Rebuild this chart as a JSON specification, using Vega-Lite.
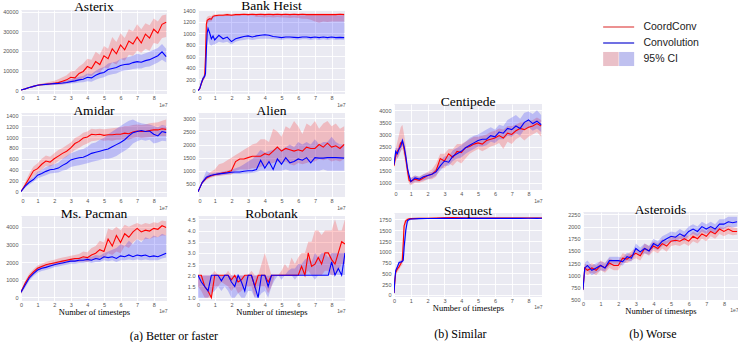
{
"$schema": "https://vega.github.io/schema/vega-lite/v6.json",
"padding": {"left": 2, "top": -2, "right": 0, "bottom": 0},
"background": "white",
"config": {
  "view": {"fill": "#EAEAF2", "stroke": null},
  "axis": {"grid": true, "gridColor": "#ffffff", "gridWidth": 0.9, "domain": false, "ticks": false, "labelOverlap": false, "labelFont": "Liberation Sans", "labelFontSize": 5.5, "labelColor": "#555555", "titleFont": "Liberation Serif, Times New Roman, serif", "titleFontSize": 8.5, "titleFontWeight": "normal", "titleColor": "#000000"},
  "axisX": {"labelPadding": 1.5, "titlePadding": 0},
  "axisY": {"labelPadding": 3},
  "title": {"font": "Liberation Serif, Times New Roman, serif", "fontSize": 13.5, "fontWeight": "normal", "color": "#000000", "offset": -4},
  "style": {
    "group-title": {"font": "Liberation Serif, Times New Roman, serif", "fontSize": 13.5, "fontWeight": "normal", "fill": "#000000"},
    "guide-title": {"font": "Liberation Serif, Times New Roman, serif", "fontSize": 8.5, "fontWeight": "normal", "fill": "#000000"},
    "guide-label": {"font": "Liberation Sans", "fontSize": 5.5, "fill": "#555555"}
  }
},
"datasets": {
"asterix": [
{"x":0,"r":0,"rl":0,"rh":0,"b":0,"bl":0,"bh":0},
{"x":0.25,"r":600,"rl":400,"rh":800,"b":600,"bl":400,"bh":800},
{"x":0.5,"r":1300,"rl":1000,"rh":1600,"b":1300,"bl":1000,"bh":1600},
{"x":0.75,"r":1900,"rl":1500,"rh":2300,"b":1900,"bl":1500,"bh":2300},
{"x":1,"r":2500,"rl":2100,"rh":2900,"b":2500,"bl":2100,"bh":2900},
{"x":1.25,"r":2800,"rl":2300,"rh":3300,"b":2700,"bl":2300,"bh":3100},
{"x":1.5,"r":3000,"rl":2400,"rh":3700,"b":2900,"bl":2400,"bh":3400},
{"x":1.75,"r":3200,"rl":2500,"rh":4200,"b":3100,"bl":2600,"bh":3600},
{"x":2,"r":3500,"rl":2600,"rh":4800,"b":3300,"bl":2700,"bh":3900},
{"x":2.25,"r":3800,"rl":2700,"rh":5500,"b":3400,"bl":2800,"bh":4100},
{"x":2.5,"r":4500,"rl":3000,"rh":6500,"b":3600,"bl":2900,"bh":4500},
{"x":2.75,"r":5200,"rl":3300,"rh":7600,"b":3900,"bl":3100,"bh":4900},
{"x":3,"r":6500,"rl":4000,"rh":9500,"b":4300,"bl":3300,"bh":5500},
{"x":3.25,"r":6200,"rl":4000,"rh":9800,"b":4700,"bl":3500,"bh":6000},
{"x":3.5,"r":8500,"rl":5000,"rh":12000,"b":5200,"bl":3800,"bh":6800},
{"x":3.75,"r":9500,"rl":6000,"rh":13500,"b":5500,"bl":4000,"bh":7200},
{"x":4,"r":12000,"rl":7500,"rh":16000,"b":6500,"bl":4500,"bh":8500},
{"x":4.25,"r":11000,"rl":7000,"rh":15500,"b":6200,"bl":4300,"bh":8200},
{"x":4.5,"r":14500,"rl":9000,"rh":19500,"b":7500,"bl":5200,"bh":9800},
{"x":4.75,"r":13000,"rl":9000,"rh":18000,"b":8500,"bl":6000,"bh":11000},
{"x":5,"r":17500,"rl":11500,"rh":22500,"b":9000,"bl":6500,"bh":11800},
{"x":5.25,"r":16000,"rl":11000,"rh":21000,"b":10500,"bl":7500,"bh":13500},
{"x":5.5,"r":21000,"rl":14000,"rh":27000,"b":11000,"bl":8000,"bh":14000},
{"x":5.75,"r":18500,"rl":13000,"rh":24500,"b":11500,"bl":8500,"bh":14500},
{"x":6,"r":23000,"rl":16000,"rh":29000,"b":12500,"bl":9500,"bh":15800},
{"x":6.25,"r":20500,"rl":15000,"rh":26500,"b":13000,"bl":10000,"bh":16500},
{"x":6.5,"r":25000,"rl":18000,"rh":31000,"b":13200,"bl":10200,"bh":16800},
{"x":6.75,"r":23500,"rl":17500,"rh":30000,"b":14000,"bl":10800,"bh":17500},
{"x":7,"r":27000,"rl":20000,"rh":33500,"b":14500,"bl":11000,"bh":18500},
{"x":7.25,"r":24000,"rl":19000,"rh":31000,"b":14200,"bl":11000,"bh":18000},
{"x":7.5,"r":28500,"rl":21000,"rh":34000,"b":15000,"bl":11800,"bh":18800},
{"x":7.75,"r":26500,"rl":20000,"rh":33000,"b":15500,"bl":12000,"bh":19500},
{"x":8,"r":31000,"rl":24000,"rh":36500,"b":16500,"bl":13000,"bh":20500},
{"x":8.25,"r":29000,"rl":23500,"rh":35000,"b":17500,"bl":14000,"bh":21500},
{"x":8.5,"r":33500,"rl":26500,"rh":38000,"b":19500,"bl":15500,"bh":23500},
{"x":8.75,"r":34500,"rl":27000,"rh":38500,"b":17000,"bl":14000,"bh":21000}
],
"bankheist": [
{"x":0,"r":0,"rl":0,"rh":20,"b":0,"bl":0,"bh":20},
{"x":0.1,"r":30,"rl":10,"rh":60,"b":30,"bl":10,"bh":60},
{"x":0.2,"r":120,"rl":80,"rh":170,"b":130,"bl":90,"bh":180},
{"x":0.3,"r":200,"rl":160,"rh":240,"b":210,"bl":170,"bh":250},
{"x":0.4,"r":250,"rl":200,"rh":300,"b":250,"bl":210,"bh":300},
{"x":0.45,"r":600,"rl":400,"rh":800,"b":300,"bl":250,"bh":400},
{"x":0.5,"r":1150,"rl":1000,"rh":1250,"b":700,"bl":500,"bh":900},
{"x":0.55,"r":1220,"rl":1150,"rh":1280,"b":1000,"bl":800,"bh":1200},
{"x":0.6,"r":1230,"rl":1180,"rh":1290,"b":1080,"bl":900,"bh":1250},
{"x":0.7,"r":1250,"rl":1200,"rh":1300,"b":1000,"bl":800,"bh":1250},
{"x":0.8,"r":1240,"rl":1200,"rh":1290,"b":900,"bl":780,"bh":1280},
{"x":0.9,"r":1290,"rl":1260,"rh":1320,"b":950,"bl":800,"bh":1290},
{"x":1,"r":1300,"rl":1280,"rh":1320,"b":880,"bl":800,"bh":1300},
{"x":1.25,"r":1310,"rl":1290,"rh":1330,"b":960,"bl":850,"bh":1300},
{"x":1.5,"r":1310,"rl":1290,"rh":1330,"b":900,"bl":830,"bh":1300},
{"x":1.75,"r":1320,"rl":1300,"rh":1340,"b":930,"bl":850,"bh":1310},
{"x":2,"r":1310,"rl":1290,"rh":1330,"b":850,"bl":800,"bh":1310},
{"x":2.25,"r":1320,"rl":1300,"rh":1340,"b":900,"bl":850,"bh":1310},
{"x":2.5,"r":1320,"rl":1300,"rh":1340,"b":920,"bl":870,"bh":1310},
{"x":2.75,"r":1325,"rl":1300,"rh":1340,"b":940,"bl":880,"bh":1310},
{"x":3,"r":1320,"rl":1300,"rh":1340,"b":950,"bl":890,"bh":1310},
{"x":3.25,"r":1325,"rl":1300,"rh":1340,"b":930,"bl":880,"bh":1310},
{"x":3.5,"r":1320,"rl":1280,"rh":1340,"b":950,"bl":890,"bh":1310},
{"x":3.75,"r":1325,"rl":1280,"rh":1340,"b":960,"bl":900,"bh":1310},
{"x":4,"r":1320,"rl":1270,"rh":1340,"b":970,"bl":900,"bh":1310},
{"x":4.25,"r":1325,"rl":1280,"rh":1340,"b":960,"bl":900,"bh":1310},
{"x":4.5,"r":1320,"rl":1270,"rh":1340,"b":940,"bl":890,"bh":1310},
{"x":4.75,"r":1325,"rl":1280,"rh":1340,"b":930,"bl":890,"bh":1310},
{"x":5,"r":1320,"rl":1270,"rh":1340,"b":920,"bl":880,"bh":1310},
{"x":5.25,"r":1325,"rl":1270,"rh":1340,"b":930,"bl":890,"bh":1310},
{"x":5.5,"r":1320,"rl":1260,"rh":1340,"b":930,"bl":890,"bh":1310},
{"x":5.75,"r":1325,"rl":1270,"rh":1340,"b":925,"bl":885,"bh":1310},
{"x":6,"r":1320,"rl":1260,"rh":1340,"b":920,"bl":880,"bh":1310},
{"x":6.25,"r":1325,"rl":1250,"rh":1340,"b":930,"bl":890,"bh":1310},
{"x":6.5,"r":1320,"rl":1250,"rh":1340,"b":930,"bl":890,"bh":1310},
{"x":6.75,"r":1320,"rl":1230,"rh":1340,"b":920,"bl":880,"bh":1310},
{"x":7,"r":1320,"rl":1200,"rh":1340,"b":930,"bl":890,"bh":1310},
{"x":7.25,"r":1320,"rl":1180,"rh":1340,"b":920,"bl":880,"bh":1310},
{"x":7.5,"r":1320,"rl":1200,"rh":1340,"b":930,"bl":890,"bh":1310},
{"x":7.75,"r":1320,"rl":1190,"rh":1340,"b":920,"bl":880,"bh":1310},
{"x":8,"r":1320,"rl":1200,"rh":1340,"b":930,"bl":890,"bh":1310},
{"x":8.25,"r":1320,"rl":1200,"rh":1340,"b":920,"bl":880,"bh":1310},
{"x":8.5,"r":1325,"rl":1200,"rh":1340,"b":925,"bl":885,"bh":1310},
{"x":8.75,"r":1320,"rl":1200,"rh":1340,"b":920,"bl":880,"bh":1310}
],
"amidar": [
{"x":0,"r":0,"rl":0,"rh":0,"b":0,"bl":0,"bh":0},
{"x":0.25,"r":120,"rl":80,"rh":170,"b":100,"bl":70,"bh":130},
{"x":0.5,"r":250,"rl":180,"rh":330,"b":170,"bl":130,"bh":210},
{"x":0.75,"r":380,"rl":280,"rh":460,"b":220,"bl":180,"bh":270},
{"x":1,"r":420,"rl":340,"rh":520,"b":300,"bl":240,"bh":360},
{"x":1.25,"r":500,"rl":400,"rh":600,"b":330,"bl":270,"bh":400},
{"x":1.5,"r":560,"rl":470,"rh":660,"b":370,"bl":300,"bh":450},
{"x":1.75,"r":540,"rl":460,"rh":640,"b":400,"bl":330,"bh":480},
{"x":2,"r":600,"rl":500,"rh":700,"b":410,"bl":340,"bh":500},
{"x":2.25,"r":650,"rl":560,"rh":760,"b":430,"bl":350,"bh":530},
{"x":2.5,"r":700,"rl":600,"rh":800,"b":480,"bl":380,"bh":600},
{"x":2.75,"r":740,"rl":640,"rh":850,"b":520,"bl":400,"bh":650},
{"x":3,"r":800,"rl":700,"rh":900,"b":580,"bl":450,"bh":700},
{"x":3.25,"r":880,"rl":760,"rh":980,"b":600,"bl":470,"bh":730},
{"x":3.5,"r":920,"rl":800,"rh":1020,"b":620,"bl":480,"bh":760},
{"x":3.75,"r":980,"rl":850,"rh":1080,"b":630,"bl":500,"bh":780},
{"x":4,"r":1000,"rl":880,"rh":1100,"b":660,"bl":520,"bh":820},
{"x":4.25,"r":1050,"rl":920,"rh":1150,"b":700,"bl":540,"bh":880},
{"x":4.5,"r":1040,"rl":930,"rh":1140,"b":720,"bl":560,"bh":900},
{"x":4.75,"r":1050,"rl":950,"rh":1150,"b":740,"bl":580,"bh":950},
{"x":5,"r":1030,"rl":930,"rh":1140,"b":760,"bl":600,"bh":980},
{"x":5.25,"r":1040,"rl":940,"rh":1150,"b":780,"bl":600,"bh":1050},
{"x":5.5,"r":1040,"rl":930,"rh":1160,"b":820,"bl":620,"bh":1100},
{"x":5.75,"r":1050,"rl":950,"rh":1170,"b":860,"bl":650,"bh":1150},
{"x":6,"r":1050,"rl":950,"rh":1180,"b":900,"bl":700,"bh":1200},
{"x":6.25,"r":1070,"rl":960,"rh":1200,"b":950,"bl":750,"bh":1250},
{"x":6.5,"r":1060,"rl":950,"rh":1200,"b":1020,"bl":800,"bh":1300},
{"x":6.75,"r":1090,"rl":980,"rh":1220,"b":1080,"bl":880,"bh":1320},
{"x":7,"r":1110,"rl":1000,"rh":1230,"b":1100,"bl":920,"bh":1280},
{"x":7.25,"r":1100,"rl":980,"rh":1220,"b":1120,"bl":950,"bh":1250},
{"x":7.5,"r":1100,"rl":990,"rh":1230,"b":1100,"bl":930,"bh":1240},
{"x":7.75,"r":1120,"rl":1000,"rh":1250,"b":1110,"bl":950,"bh":1230},
{"x":8,"r":1130,"rl":1000,"rh":1260,"b":1050,"bl":880,"bh":1200},
{"x":8.25,"r":1130,"rl":1020,"rh":1270,"b":1020,"bl":900,"bh":1180},
{"x":8.5,"r":1150,"rl":1020,"rh":1300,"b":1100,"bl":930,"bh":1220},
{"x":8.75,"r":1140,"rl":1020,"rh":1320,"b":1080,"bl":920,"bh":1200}
],
"alien": [
{"x":0,"r":200,"rl":180,"rh":220,"b":200,"bl":180,"bh":220},
{"x":0.25,"r":550,"rl":500,"rh":620,"b":550,"bl":500,"bh":600},
{"x":0.5,"r":720,"rl":650,"rh":800,"b":750,"bl":680,"bh":1000},
{"x":0.75,"r":800,"rl":720,"rh":950,"b":820,"bl":760,"bh":900},
{"x":1,"r":850,"rl":780,"rh":1050,"b":860,"bl":800,"bh":920},
{"x":1.25,"r":880,"rl":800,"rh":1250,"b":880,"bl":820,"bh":950},
{"x":1.5,"r":920,"rl":820,"rh":1300,"b":900,"bl":840,"bh":980},
{"x":1.75,"r":950,"rl":850,"rh":1400,"b":920,"bl":860,"bh":1000},
{"x":2,"r":1000,"rl":850,"rh":1500,"b":940,"bl":880,"bh":1050},
{"x":2.25,"r":1350,"rl":1000,"rh":1600,"b":950,"bl":880,"bh":1100},
{"x":2.5,"r":1450,"rl":1050,"rh":1700,"b":950,"bl":880,"bh":1150},
{"x":2.75,"r":1450,"rl":1050,"rh":1800,"b":980,"bl":900,"bh":1250},
{"x":3,"r":1500,"rl":1050,"rh":1900,"b":1000,"bl":900,"bh":1350},
{"x":3.25,"r":1550,"rl":1100,"rh":2000,"b":1000,"bl":920,"bh":1450},
{"x":3.5,"r":1550,"rl":1100,"rh":2050,"b":1050,"bl":950,"bh":1600},
{"x":3.75,"r":1550,"rl":1150,"rh":2200,"b":1400,"bl":1000,"bh":1800},
{"x":4,"r":1650,"rl":1200,"rh":2200,"b":1100,"bl":1000,"bh":1700},
{"x":4.25,"r":1600,"rl":1250,"rh":2100,"b":1350,"bl":1000,"bh":1750},
{"x":4.5,"r":1750,"rl":1300,"rh":2600,"b":1050,"bl":1000,"bh":1800},
{"x":4.75,"r":1900,"rl":1350,"rh":2500,"b":1450,"bl":1000,"bh":1900},
{"x":5,"r":1750,"rl":1300,"rh":2300,"b":1250,"bl":1000,"bh":1800},
{"x":5.25,"r":1850,"rl":1350,"rh":2700,"b":1500,"bl":1050,"bh":1900},
{"x":5.5,"r":1800,"rl":1250,"rh":2600,"b":1300,"bl":1000,"bh":2000},
{"x":5.75,"r":1750,"rl":1200,"rh":2900,"b":1350,"bl":1000,"bh":1900},
{"x":6,"r":1800,"rl":1300,"rh":2700,"b":1450,"bl":1000,"bh":2100},
{"x":6.25,"r":1750,"rl":1250,"rh":2400,"b":1400,"bl":1000,"bh":2000},
{"x":6.5,"r":1900,"rl":1300,"rh":2800,"b":1500,"bl":1000,"bh":2100},
{"x":6.75,"r":1850,"rl":1350,"rh":2700,"b":1300,"bl":1000,"bh":2000},
{"x":7,"r":1850,"rl":1350,"rh":2900,"b":1500,"bl":1000,"bh":2200},
{"x":7.25,"r":2000,"rl":1450,"rh":2600,"b":1480,"bl":1000,"bh":2000},
{"x":7.5,"r":1900,"rl":1400,"rh":2800,"b":1480,"bl":1050,"bh":2100},
{"x":7.75,"r":2050,"rl":1450,"rh":2900,"b":1500,"bl":1000,"bh":2100},
{"x":8,"r":1900,"rl":1350,"rh":2700,"b":1500,"bl":1000,"bh":2300},
{"x":8.25,"r":1950,"rl":1400,"rh":2800,"b":1500,"bl":1000,"bh":2100},
{"x":8.5,"r":1850,"rl":1350,"rh":2600,"b":1490,"bl":1000,"bh":2000},
{"x":8.75,"r":2000,"rl":1450,"rh":2700,"b":1480,"bl":1000,"bh":2000}
],
"mspacman": [
{"x":0,"r":300,"rl":200,"rh":400,"b":300,"bl":200,"bh":400},
{"x":0.25,"r":800,"rl":650,"rh":950,"b":700,"bl":550,"bh":850},
{"x":0.5,"r":1200,"rl":1050,"rh":1350,"b":1100,"bl":950,"bh":1250},
{"x":0.75,"r":1450,"rl":1300,"rh":1600,"b":1350,"bl":1200,"bh":1500},
{"x":1,"r":1650,"rl":1500,"rh":1800,"b":1550,"bl":1400,"bh":1700},
{"x":1.25,"r":1750,"rl":1600,"rh":1900,"b":1650,"bl":1500,"bh":1800},
{"x":1.5,"r":1850,"rl":1700,"rh":2000,"b":1700,"bl":1550,"bh":1850},
{"x":1.75,"r":1900,"rl":1750,"rh":2080,"b":1780,"bl":1620,"bh":1920},
{"x":2,"r":1950,"rl":1800,"rh":2130,"b":1850,"bl":1700,"bh":2000},
{"x":2.25,"r":2000,"rl":1850,"rh":2200,"b":1900,"bl":1750,"bh":2050},
{"x":2.5,"r":2050,"rl":1900,"rh":2250,"b":1950,"bl":1800,"bh":2100},
{"x":2.75,"r":2100,"rl":1950,"rh":2300,"b":2000,"bl":1850,"bh":2150},
{"x":3,"r":2150,"rl":2000,"rh":2350,"b":2050,"bl":1900,"bh":2200},
{"x":3.25,"r":2200,"rl":2000,"rh":2400,"b":2050,"bl":1900,"bh":2200},
{"x":3.5,"r":2200,"rl":2000,"rh":2450,"b":2100,"bl":1950,"bh":2250},
{"x":3.75,"r":2300,"rl":2050,"rh":2600,"b":2100,"bl":1950,"bh":2250},
{"x":4,"r":2250,"rl":2000,"rh":2550,"b":2150,"bl":2000,"bh":2300},
{"x":4.25,"r":2400,"rl":2100,"rh":2800,"b":2100,"bl":1950,"bh":2300},
{"x":4.5,"r":2500,"rl":2150,"rh":2900,"b":2200,"bl":2000,"bh":2400},
{"x":4.75,"r":2700,"rl":2250,"rh":3200,"b":2150,"bl":2000,"bh":2350},
{"x":5,"r":2600,"rl":2200,"rh":3100,"b":2300,"bl":2100,"bh":2500},
{"x":5.25,"r":3300,"rl":2500,"rh":3900,"b":2250,"bl":2050,"bh":2600},
{"x":5.5,"r":2900,"rl":2400,"rh":3800,"b":2300,"bl":2100,"bh":2700},
{"x":5.75,"r":3500,"rl":2600,"rh":4000,"b":2200,"bl":2000,"bh":2800},
{"x":6,"r":3100,"rl":2500,"rh":3800,"b":2350,"bl":2100,"bh":3000},
{"x":6.25,"r":3600,"rl":2900,"rh":4100,"b":2300,"bl":2100,"bh":2900},
{"x":6.5,"r":3400,"rl":2800,"rh":4000,"b":2400,"bl":2150,"bh":3200},
{"x":6.75,"r":3700,"rl":3100,"rh":4100,"b":2300,"bl":2100,"bh":3000},
{"x":7,"r":3900,"rl":3300,"rh":4200,"b":2400,"bl":2150,"bh":3300},
{"x":7.25,"r":3700,"rl":3200,"rh":4100,"b":2350,"bl":2100,"bh":3100},
{"x":7.5,"r":3800,"rl":3300,"rh":4200,"b":2400,"bl":2150,"bh":3400},
{"x":7.75,"r":3750,"rl":3300,"rh":4150,"b":2300,"bl":2100,"bh":3300},
{"x":8,"r":3900,"rl":3400,"rh":4250,"b":2350,"bl":2100,"bh":3500},
{"x":8.25,"r":3850,"rl":3400,"rh":4200,"b":2300,"bl":2100,"bh":3400},
{"x":8.5,"r":4050,"rl":3500,"rh":4350,"b":2400,"bl":2200,"bh":3600},
{"x":8.75,"r":3950,"rl":3500,"rh":4300,"b":2500,"bl":2250,"bh":3500}
],
"robotank": [
{"x":0,"r":2,"rl":1.5,"rh":2,"b":2,"bl":1,"bh":2},
{"x":0.2,"r":2,"rl":1.3,"rh":2,"b":1.7,"bl":1,"bh":2},
{"x":0.4,"r":1.5,"rl":1,"rh":2,"b":1.5,"bl":1,"bh":2},
{"x":0.6,"r":1.3,"rl":1,"rh":2,"b":1.3,"bl":1,"bh":2},
{"x":0.8,"r":1,"rl":1,"rh":2,"b":2,"bl":1.2,"bh":2},
{"x":1,"r":2,"rl":1.5,"rh":2.2,"b":2,"bl":1.3,"bh":2},
{"x":1.2,"r":2,"rl":1.5,"rh":2,"b":2,"bl":1.5,"bh":2},
{"x":1.4,"r":2,"rl":1.7,"rh":2,"b":1.75,"bl":1.3,"bh":2},
{"x":1.6,"r":2,"rl":1.6,"rh":2,"b":2,"bl":1.5,"bh":2},
{"x":1.8,"r":2,"rl":1.5,"rh":2.2,"b":2,"bl":1.3,"bh":2},
{"x":2,"r":1.8,"rl":1.3,"rh":2,"b":1.7,"bl":1,"bh":2},
{"x":2.2,"r":2,"rl":1.5,"rh":2,"b":1.5,"bl":1,"bh":2},
{"x":2.4,"r":1.7,"rl":1.2,"rh":2,"b":2,"bl":1.2,"bh":2},
{"x":2.6,"r":1.8,"rl":1.3,"rh":2,"b":1.7,"bl":1,"bh":2},
{"x":2.8,"r":2,"rl":1.5,"rh":2,"b":1.3,"bl":1,"bh":2},
{"x":3,"r":2,"rl":1.5,"rh":2,"b":2,"bl":1.3,"bh":2},
{"x":3.2,"r":2,"rl":1.5,"rh":2.2,"b":2,"bl":1.3,"bh":2},
{"x":3.4,"r":1.5,"rl":1,"rh":2,"b":1.5,"bl":1,"bh":2},
{"x":3.6,"r":2,"rl":1.5,"rh":2,"b":1,"bl":1,"bh":2},
{"x":3.8,"r":2,"rl":1.5,"rh":2.5,"b":2,"bl":1.2,"bh":2},
{"x":4,"r":2,"rl":1.5,"rh":3,"b":2,"bl":1.3,"bh":2},
{"x":4.2,"r":1.7,"rl":1.2,"rh":2.5,"b":1.5,"bl":1,"bh":2},
{"x":4.4,"r":2,"rl":1.5,"rh":2,"b":2,"bl":1.5,"bh":2},
{"x":4.6,"r":2,"rl":2,"rh":2,"b":2,"bl":1.8,"bh":2},
{"x":4.8,"r":2,"rl":2,"rh":2,"b":2,"bl":2,"bh":2},
{"x":5,"r":2,"rl":2,"rh":2.2,"b":2,"bl":1.8,"bh":2},
{"x":5.2,"r":2,"rl":2,"rh":2.5,"b":2,"bl":2,"bh":2},
{"x":5.4,"r":2,"rl":2,"rh":2.3,"b":2,"bl":2,"bh":2.2},
{"x":5.6,"r":2,"rl":2,"rh":2.8,"b":2,"bl":2,"bh":2.3},
{"x":5.8,"r":2,"rl":2,"rh":2.5,"b":2,"bl":1.8,"bh":2.3},
{"x":6,"r":2,"rl":2,"rh":2.8,"b":2,"bl":2,"bh":2.5},
{"x":6.2,"r":2.4,"rl":2,"rh":3,"b":2,"bl":2,"bh":2.5},
{"x":6.4,"r":2,"rl":2,"rh":3,"b":2,"bl":2,"bh":2.7},
{"x":6.6,"r":3,"rl":2.2,"rh":3.5,"b":2,"bl":2,"bh":2.8},
{"x":6.8,"r":2.4,"rl":2,"rh":3.5,"b":2,"bl":2,"bh":2.6},
{"x":7,"r":2.5,"rl":2,"rh":4,"b":2,"bl":1.8,"bh":3},
{"x":7.2,"r":2.8,"rl":2,"rh":4,"b":2,"bl":2,"bh":2.8},
{"x":7.4,"r":2.5,"rl":2,"rh":3.8,"b":2,"bl":2,"bh":3},
{"x":7.6,"r":3,"rl":2.2,"rh":4,"b":2,"bl":2,"bh":3},
{"x":7.8,"r":3,"rl":2.2,"rh":4,"b":2,"bl":2,"bh":2.8},
{"x":8,"r":2.7,"rl":2,"rh":4,"b":2.6,"bl":2,"bh":3},
{"x":8.2,"r":2.5,"rl":2,"rh":4.5,"b":2,"bl":2,"bh":3},
{"x":8.4,"r":3,"rl":2.2,"rh":4,"b":2.3,"bl":2,"bh":3},
{"x":8.6,"r":3.5,"rl":2.5,"rh":4,"b":2,"bl":2,"bh":3},
{"x":8.8,"r":3.4,"rl":2.5,"rh":4.5,"b":3,"bl":2,"bh":3}
],
"centipede": [
{"x":0,"r":1700,"rl":1600,"rh":1800,"b":1750,"bl":1650,"bh":1850},
{"x":0.1,"r":2100,"rl":1900,"rh":2400,"b":2300,"bl":2100,"bh":2500},
{"x":0.2,"r":2300,"rl":2000,"rh":2700,"b":2200,"bl":2000,"bh":2400},
{"x":0.3,"r":2400,"rl":2100,"rh":3000,"b":2400,"bl":2200,"bh":2600},
{"x":0.4,"r":2650,"rl":2300,"rh":3300,"b":2500,"bl":2300,"bh":2700},
{"x":0.5,"r":2700,"rl":2400,"rh":3400,"b":2750,"bl":2550,"bh":2850},
{"x":0.6,"r":2400,"rl":2100,"rh":3000,"b":2500,"bl":2300,"bh":2700},
{"x":0.7,"r":2000,"rl":1700,"rh":2500,"b":2100,"bl":1900,"bh":2300},
{"x":0.8,"r":1500,"rl":1200,"rh":1800,"b":1600,"bl":1400,"bh":1800},
{"x":0.9,"r":1100,"rl":950,"rh":1300,"b":1300,"bl":1100,"bh":1400},
{"x":1,"r":1050,"rl":900,"rh":1200,"b":1050,"bl":950,"bh":1200},
{"x":1.25,"r":1150,"rl":1000,"rh":1300,"b":1200,"bl":1050,"bh":1300},
{"x":1.5,"r":1100,"rl":1000,"rh":1250,"b":1150,"bl":1050,"bh":1250},
{"x":1.75,"r":1200,"rl":1050,"rh":1350,"b":1250,"bl":1100,"bh":1350},
{"x":2,"r":1300,"rl":1150,"rh":1450,"b":1300,"bl":1150,"bh":1400},
{"x":2.25,"r":1350,"rl":1150,"rh":1550,"b":1350,"bl":1200,"bh":1450},
{"x":2.5,"r":1500,"rl":1250,"rh":1800,"b":1450,"bl":1300,"bh":1600},
{"x":2.75,"r":2000,"rl":1600,"rh":2200,"b":1700,"bl":1500,"bh":1900},
{"x":3,"r":1900,"rl":1600,"rh":2200,"b":1900,"bl":1700,"bh":2100},
{"x":3.25,"r":2200,"rl":1800,"rh":2400,"b":1850,"bl":1700,"bh":2100},
{"x":3.5,"r":2050,"rl":1700,"rh":2400,"b":2100,"bl":1900,"bh":2350},
{"x":3.75,"r":2300,"rl":1900,"rh":2600,"b":2200,"bl":2000,"bh":2450},
{"x":4,"r":2250,"rl":1800,"rh":2600,"b":2300,"bl":2050,"bh":2550},
{"x":4.25,"r":2450,"rl":2000,"rh":2700,"b":2450,"bl":2200,"bh":2700},
{"x":4.5,"r":2500,"rl":2200,"rh":2800,"b":2550,"bl":2300,"bh":2850},
{"x":4.75,"r":2600,"rl":2300,"rh":2900,"b":2650,"bl":2400,"bh":2950},
{"x":5,"r":2650,"rl":2400,"rh":2900,"b":2750,"bl":2500,"bh":3000},
{"x":5.25,"r":2600,"rl":2300,"rh":2950,"b":2800,"bl":2500,"bh":3100},
{"x":5.5,"r":2750,"rl":2400,"rh":3000,"b":2800,"bl":2550,"bh":3200},
{"x":5.75,"r":2800,"rl":2500,"rh":3100,"b":2950,"bl":2700,"bh":3300},
{"x":6,"r":2850,"rl":2550,"rh":3150,"b":2900,"bl":2650,"bh":3200},
{"x":6.25,"r":2950,"rl":2650,"rh":3250,"b":3100,"bl":2800,"bh":3400},
{"x":6.5,"r":2850,"rl":2400,"rh":3200,"b":3050,"bl":2800,"bh":3350},
{"x":6.75,"r":3050,"rl":2700,"rh":3350,"b":3250,"bl":2950,"bh":3600},
{"x":7,"r":3000,"rl":2600,"rh":3350,"b":3200,"bl":2900,"bh":3700},
{"x":7.25,"r":3150,"rl":2800,"rh":3400,"b":3350,"bl":3050,"bh":3800},
{"x":7.5,"r":3250,"rl":2900,"rh":3500,"b":3250,"bl":2950,"bh":3650},
{"x":7.75,"r":3200,"rl":2750,"rh":3500,"b":3500,"bl":3200,"bh":3900},
{"x":8,"r":3300,"rl":2900,"rh":3550,"b":3600,"bl":3300,"bh":3950},
{"x":8.25,"r":3350,"rl":3000,"rh":3600,"b":3450,"bl":3150,"bh":3850},
{"x":8.5,"r":3450,"rl":3100,"rh":3700,"b":3550,"bl":3250,"bh":4000},
{"x":8.75,"r":3350,"rl":2900,"rh":3600,"b":3400,"bl":3100,"bh":3800}
],
"seaquest": [
{"x":0,"r":40,"rl":20,"rh":60,"b":40,"bl":20,"bh":60},
{"x":0.05,"r":300,"rl":200,"rh":400,"b":350,"bl":250,"bh":450},
{"x":0.1,"r":520,"rl":450,"rh":600,"b":560,"bl":500,"bh":620},
{"x":0.2,"r":600,"rl":530,"rh":680,"b":650,"bl":600,"bh":700},
{"x":0.3,"r":650,"rl":580,"rh":720,"b":750,"bl":700,"bh":790},
{"x":0.4,"r":720,"rl":650,"rh":800,"b":760,"bl":720,"bh":800},
{"x":0.5,"r":800,"rl":700,"rh":1000,"b":780,"bl":740,"bh":820},
{"x":0.55,"r":1200,"rl":1000,"rh":1500,"b":800,"bl":760,"bh":900},
{"x":0.6,"r":1600,"rl":1450,"rh":1700,"b":1100,"bl":900,"bh":1300},
{"x":0.7,"r":1720,"rl":1650,"rh":1760,"b":1500,"bl":1300,"bh":1650},
{"x":0.8,"r":1750,"rl":1720,"rh":1780,"b":1720,"bl":1650,"bh":1760},
{"x":0.9,"r":1765,"rl":1740,"rh":1785,"b":1750,"bl":1720,"bh":1770},
{"x":1,"r":1770,"rl":1750,"rh":1790,"b":1760,"bl":1740,"bh":1780},
{"x":1.5,"r":1775,"rl":1760,"rh":1790,"b":1770,"bl":1755,"bh":1785},
{"x":2,"r":1778,"rl":1765,"rh":1792,"b":1772,"bl":1760,"bh":1785},
{"x":2.5,"r":1782,"rl":1768,"rh":1795,"b":1774,"bl":1762,"bh":1786},
{"x":3,"r":1790,"rl":1770,"rh":1805,"b":1775,"bl":1762,"bh":1788},
{"x":3.5,"r":1795,"rl":1772,"rh":1810,"b":1773,"bl":1760,"bh":1786},
{"x":4,"r":1790,"rl":1770,"rh":1805,"b":1776,"bl":1763,"bh":1788},
{"x":4.5,"r":1785,"rl":1770,"rh":1798,"b":1775,"bl":1762,"bh":1787},
{"x":5,"r":1783,"rl":1770,"rh":1796,"b":1776,"bl":1764,"bh":1788},
{"x":5.5,"r":1785,"rl":1771,"rh":1797,"b":1775,"bl":1763,"bh":1787},
{"x":6,"r":1782,"rl":1770,"rh":1795,"b":1776,"bl":1764,"bh":1788},
{"x":6.5,"r":1784,"rl":1771,"rh":1796,"b":1775,"bl":1763,"bh":1787},
{"x":7,"r":1783,"rl":1770,"rh":1795,"b":1776,"bl":1764,"bh":1788},
{"x":7.5,"r":1784,"rl":1771,"rh":1796,"b":1776,"bl":1764,"bh":1788},
{"x":8,"r":1783,"rl":1770,"rh":1795,"b":1777,"bl":1765,"bh":1789},
{"x":8.5,"r":1784,"rl":1771,"rh":1796,"b":1776,"bl":1764,"bh":1788},
{"x":8.8,"r":1783,"rl":1770,"rh":1795,"b":1777,"bl":1765,"bh":1789}
],
"asteroids": [
{"x":0,"r":700,"rl":650,"rh":750,"b":700,"bl":650,"bh":750},
{"x":0.1,"r":1150,"rl":1050,"rh":1250,"b":1150,"bl":1050,"bh":1250},
{"x":0.25,"r":1100,"rl":1000,"rh":1200,"b":1200,"bl":1100,"bh":1300},
{"x":0.5,"r":1150,"rl":1050,"rh":1250,"b":1100,"bl":1000,"bh":1200},
{"x":0.75,"r":1100,"rl":1000,"rh":1200,"b":1150,"bl":1050,"bh":1250},
{"x":1,"r":1200,"rl":1100,"rh":1300,"b":1200,"bl":1100,"bh":1280},
{"x":1.25,"r":1150,"rl":1050,"rh":1250,"b":1150,"bl":1080,"bh":1250},
{"x":1.5,"r":1250,"rl":1150,"rh":1350,"b":1300,"bl":1200,"bh":1380},
{"x":1.75,"r":1200,"rl":1100,"rh":1300,"b":1300,"bl":1220,"bh":1380},
{"x":2,"r":1200,"rl":1100,"rh":1300,"b":1300,"bl":1220,"bh":1380},
{"x":2.25,"r":1350,"rl":1250,"rh":1450,"b":1280,"bl":1200,"bh":1360},
{"x":2.5,"r":1330,"rl":1250,"rh":1420,"b":1380,"bl":1300,"bh":1460},
{"x":2.75,"r":1400,"rl":1300,"rh":1500,"b":1350,"bl":1280,"bh":1430},
{"x":3,"r":1450,"rl":1350,"rh":1550,"b":1550,"bl":1450,"bh":1650},
{"x":3.25,"r":1400,"rl":1300,"rh":1500,"b":1480,"bl":1400,"bh":1570},
{"x":3.5,"r":1550,"rl":1450,"rh":1650,"b":1550,"bl":1450,"bh":1650},
{"x":3.75,"r":1500,"rl":1400,"rh":1600,"b":1500,"bl":1420,"bh":1600},
{"x":4,"r":1600,"rl":1500,"rh":1700,"b":1650,"bl":1550,"bh":1750},
{"x":4.25,"r":1550,"rl":1450,"rh":1650,"b":1600,"bl":1520,"bh":1700},
{"x":4.5,"r":1650,"rl":1550,"rh":1750,"b":1700,"bl":1600,"bh":1800},
{"x":4.75,"r":1600,"rl":1480,"rh":1700,"b":1750,"bl":1650,"bh":1850},
{"x":5,"r":1700,"rl":1600,"rh":1800,"b":1800,"bl":1700,"bh":1900},
{"x":5.25,"r":1720,"rl":1620,"rh":1800,"b":1780,"bl":1680,"bh":1880},
{"x":5.5,"r":1700,"rl":1600,"rh":1800,"b":1850,"bl":1750,"bh":1950},
{"x":5.75,"r":1750,"rl":1650,"rh":1850,"b":1800,"bl":1700,"bh":1900},
{"x":6,"r":1700,"rl":1600,"rh":1800,"b":1900,"bl":1800,"bh":2000},
{"x":6.25,"r":1800,"rl":1700,"rh":1900,"b":1950,"bl":1850,"bh":2050},
{"x":6.5,"r":1750,"rl":1650,"rh":1850,"b":1900,"bl":1800,"bh":2000},
{"x":6.75,"r":1850,"rl":1750,"rh":1950,"b":2000,"bl":1900,"bh":2100},
{"x":7,"r":1800,"rl":1700,"rh":1900,"b":1950,"bl":1850,"bh":2050},
{"x":7.25,"r":1900,"rl":1800,"rh":2000,"b":2000,"bl":1900,"bh":2100},
{"x":7.5,"r":1850,"rl":1750,"rh":1950,"b":1950,"bl":1850,"bh":2050},
{"x":7.75,"r":1950,"rl":1850,"rh":2000,"b":2050,"bl":1950,"bh":2150},
{"x":8,"r":1900,"rl":1800,"rh":1980,"b":2050,"bl":1950,"bh":2150},
{"x":8.25,"r":1950,"rl":1850,"rh":2020,"b":2100,"bl":2000,"bh":2200},
{"x":8.5,"r":1900,"rl":1820,"rh":1980,"b":2080,"bl":1980,"bh":2200},
{"x":8.75,"r":1900,"rl":1830,"rh":1970,"b":2100,"bl":2000,"bh":2200}
]
},
"hconcat": [
{
 "concat": [
  {"title": "Asterix", "width": 146, "height": 84, "data": {"name": "asterix"},
   "encoding": {"x": {"field": "x", "type": "quantitative", "scale": {"domain": [0, 8.8], "nice": false}, "axis": {"values": [0,1,2,3,4,5,6,7,8], "tickCount": 20, "format": "d", "title": "1e7", "titleAnchor": "end", "titleFont": "Liberation Sans", "titleFontSize": 5, "titleColor": "#555555", "titlePadding": 1}}},
   "layer": [
    {"mark": {"type": "area", "color": "#ff0000", "opacity": 0.2, "clip": true}, "encoding": {"y": {"field": "rl", "type": "quantitative", "title": null, "scale": {"domain": [-2000, 40800], "nice": false, "zero": false}, "axis": {"values": [0,10000,20000,30000,40000], "tickCount": 20, "format": "d"}}, "y2": {"field": "rh"}}},
    {"mark": {"type": "area", "color": "#0000ff", "opacity": 0.2, "clip": true}, "encoding": {"y": {"field": "bl", "type": "quantitative", "title": null}, "y2": {"field": "bh"}}},
    {"mark": {"type": "line", "color": "#ff0000", "strokeWidth": 1.1, "clip": true}, "encoding": {"y": {"field": "r", "type": "quantitative", "title": null}}},
    {"mark": {"type": "line", "color": "#0000ff", "strokeWidth": 1.1, "clip": true}, "encoding": {"y": {"field": "b", "type": "quantitative", "title": null}}}
   ]},
  {"title": "Bank Heist", "width": 147, "height": 84, "data": {"name": "bankheist"},
   "encoding": {"x": {"field": "x", "type": "quantitative", "scale": {"domain": [0, 8.8], "nice": false}, "axis": {"values": [0,1,2,3,4,5,6,7,8], "tickCount": 20, "format": "d", "title": "1e7", "titleAnchor": "end", "titleFont": "Liberation Sans", "titleFontSize": 5, "titleColor": "#555555", "titlePadding": 1}}},
   "layer": [
    {"mark": {"type": "area", "color": "#ff0000", "opacity": 0.2, "clip": true}, "encoding": {"y": {"field": "rl", "type": "quantitative", "title": null, "scale": {"domain": [-60, 1400], "nice": false, "zero": false}, "axis": {"values": [0,200,400,600,800,1000,1200,1400], "tickCount": 20, "format": "d"}}, "y2": {"field": "rh"}}},
    {"mark": {"type": "area", "color": "#0000ff", "opacity": 0.2, "clip": true}, "encoding": {"y": {"field": "bl", "type": "quantitative", "title": null}, "y2": {"field": "bh"}}},
    {"mark": {"type": "line", "color": "#ff0000", "strokeWidth": 1.1, "clip": true}, "encoding": {"y": {"field": "r", "type": "quantitative", "title": null}}},
    {"mark": {"type": "line", "color": "#0000ff", "strokeWidth": 1.1, "clip": true}, "encoding": {"y": {"field": "b", "type": "quantitative", "title": null}}}
   ]},
  {"title": "Amidar", "width": 146, "height": 84, "data": {"name": "amidar"},
   "encoding": {"x": {"field": "x", "type": "quantitative", "scale": {"domain": [0, 8.8], "nice": false}, "axis": {"values": [0,1,2,3,4,5,6,7,8], "tickCount": 20, "format": "d", "title": "1e7", "titleAnchor": "end", "titleFont": "Liberation Sans", "titleFontSize": 5, "titleColor": "#555555", "titlePadding": 1}}},
   "layer": [
    {"mark": {"type": "area", "color": "#ff0000", "opacity": 0.2, "clip": true}, "encoding": {"y": {"field": "rl", "type": "quantitative", "title": null, "scale": {"domain": [-100, 1440], "nice": false, "zero": false}, "axis": {"values": [0,200,400,600,800,1000,1200,1400], "tickCount": 20, "format": "d"}}, "y2": {"field": "rh"}}},
    {"mark": {"type": "area", "color": "#0000ff", "opacity": 0.2, "clip": true}, "encoding": {"y": {"field": "bl", "type": "quantitative", "title": null}, "y2": {"field": "bh"}}},
    {"mark": {"type": "line", "color": "#ff0000", "strokeWidth": 1.1, "clip": true}, "encoding": {"y": {"field": "r", "type": "quantitative", "title": null}}},
    {"mark": {"type": "line", "color": "#0000ff", "strokeWidth": 1.1, "clip": true}, "encoding": {"y": {"field": "b", "type": "quantitative", "title": null}}}
   ]},
  {"title": "Alien", "width": 147, "height": 84, "data": {"name": "alien"},
   "encoding": {"x": {"field": "x", "type": "quantitative", "scale": {"domain": [0, 8.8], "nice": false}, "axis": {"values": [0,1,2,3,4,5,6,7,8], "tickCount": 20, "format": "d", "title": "1e7", "titleAnchor": "end", "titleFont": "Liberation Sans", "titleFontSize": 5, "titleColor": "#555555", "titlePadding": 1}}},
   "layer": [
    {"mark": {"type": "area", "color": "#ff0000", "opacity": 0.2, "clip": true}, "encoding": {"y": {"field": "rl", "type": "quantitative", "title": null, "scale": {"domain": [0, 3200], "nice": false, "zero": false}, "axis": {"values": [500,1000,1500,2000,2500,3000], "tickCount": 20, "format": "d"}}, "y2": {"field": "rh"}}},
    {"mark": {"type": "area", "color": "#0000ff", "opacity": 0.2, "clip": true}, "encoding": {"y": {"field": "bl", "type": "quantitative", "title": null}, "y2": {"field": "bh"}}},
    {"mark": {"type": "line", "color": "#ff0000", "strokeWidth": 1.1, "clip": true}, "encoding": {"y": {"field": "r", "type": "quantitative", "title": null}}},
    {"mark": {"type": "line", "color": "#0000ff", "strokeWidth": 1.1, "clip": true}, "encoding": {"y": {"field": "b", "type": "quantitative", "title": null}}}
   ]},
  {"title": "Ms. Pacman", "width": 146, "height": 85, "data": {"name": "mspacman"},
   "encoding": {"x": {"field": "x", "type": "quantitative", "scale": {"domain": [0, 8.8], "nice": false}, "axis": {"values": [0,1,2,3,4,5,6,7,8,8.8], "tickCount": 20, "labelOverlap": false, "labelExpr": "datum.value > 8.5 ? '1e7' : format(datum.value, 'd')", "labelAlign": {"condition": {"test": "datum.value > 8.5", "value": "right"}, "value": "center"}, "labelPadding": {"condition": {"test": "datum.value > 8.5", "value": 7.5}, "value": 1.5}, "labelFontSize": {"condition": {"test": "datum.value > 8.5", "value": 5}, "value": 5.5}, "gridOpacity": {"condition": {"test": "datum.value > 8.5", "value": 0}, "value": 1}, "title": "Number of timesteps", "titleY": 6, "titleBaseline": "top"}}},
   "layer": [
    {"mark": {"type": "area", "color": "#ff0000", "opacity": 0.2, "clip": true}, "encoding": {"y": {"field": "rl", "type": "quantitative", "title": null, "scale": {"domain": [-200, 4600], "nice": false, "zero": false}, "axis": {"values": [0,1000,2000,3000,4000], "tickCount": 20, "format": "d"}}, "y2": {"field": "rh"}}},
    {"mark": {"type": "area", "color": "#0000ff", "opacity": 0.2, "clip": true}, "encoding": {"y": {"field": "bl", "type": "quantitative", "title": null}, "y2": {"field": "bh"}}},
    {"mark": {"type": "line", "color": "#ff0000", "strokeWidth": 1.1, "clip": true}, "encoding": {"y": {"field": "r", "type": "quantitative", "title": null}}},
    {"mark": {"type": "line", "color": "#0000ff", "strokeWidth": 1.1, "clip": true}, "encoding": {"y": {"field": "b", "type": "quantitative", "title": null}}}
   ]},
  {"title": "Robotank", "width": 147, "height": 85, "data": {"name": "robotank"},
   "encoding": {"x": {"field": "x", "type": "quantitative", "scale": {"domain": [0, 8.8], "nice": false}, "axis": {"values": [0,1,2,3,4,5,6,7,8,8.8], "tickCount": 20, "labelOverlap": false, "labelExpr": "datum.value > 8.5 ? '1e7' : format(datum.value, 'd')", "labelAlign": {"condition": {"test": "datum.value > 8.5", "value": "right"}, "value": "center"}, "labelPadding": {"condition": {"test": "datum.value > 8.5", "value": 7.5}, "value": 1.5}, "labelFontSize": {"condition": {"test": "datum.value > 8.5", "value": 5}, "value": 5.5}, "gridOpacity": {"condition": {"test": "datum.value > 8.5", "value": 0}, "value": 1}, "title": "Number of timesteps", "titleY": 6, "titleBaseline": "top"}}},
   "layer": [
    {"mark": {"type": "area", "color": "#ff0000", "opacity": 0.2, "clip": true}, "encoding": {"y": {"field": "rl", "type": "quantitative", "title": null, "scale": {"domain": [0.85, 4.65], "nice": false, "zero": false}, "axis": {"values": [1,1.5,2,2.5,3,3.5,4,4.5], "tickCount": 20, "format": ".1f"}}, "y2": {"field": "rh"}}},
    {"mark": {"type": "area", "color": "#0000ff", "opacity": 0.2, "clip": true}, "encoding": {"y": {"field": "bl", "type": "quantitative", "title": null}, "y2": {"field": "bh"}}},
    {"mark": {"type": "line", "color": "#ff0000", "strokeWidth": 1.1, "clip": true}, "encoding": {"y": {"field": "r", "type": "quantitative", "title": null}}},
    {"mark": {"type": "line", "color": "#0000ff", "strokeWidth": 1.1, "clip": true}, "encoding": {"y": {"field": "b", "type": "quantitative", "title": null}}}
   ]}
 ],
 "columns": 2,
 "bounds": "flush",
 "spacing": {"row": 19, "column": 31},
 "title": {"text": "(a) Better or faster", "orient": "bottom", "anchor": "middle", "font": "Liberation Serif, Times New Roman, serif", "fontSize": 12, "fontWeight": "normal", "color": "#000000", "offset": 15}
},
{
 "hconcat": [
  {
   "vconcat": [
    {"width": 148, "height": 71, "view": {"fill": null, "stroke": null}, "data": {"values": [{"t": ""}]}, "mark": {"type": "point", "opacity": 0}},
    {"title": "Centipede", "width": 148, "height": 86, "data": {"name": "centipede"},
     "encoding": {"x": {"field": "x", "type": "quantitative", "scale": {"domain": [0, 8.8], "nice": false}, "axis": {"values": [0,1,2,3,4,5,6,7,8], "tickCount": 20, "format": "d", "title": "1e7", "titleAnchor": "end", "titleFont": "Liberation Sans", "titleFontSize": 5, "titleColor": "#555555", "titlePadding": 1}}},
     "layer": [
      {"mark": {"type": "area", "color": "#ff0000", "opacity": 0.2, "clip": true}, "encoding": {"y": {"field": "rl", "type": "quantitative", "title": null, "scale": {"domain": [700, 4260], "nice": false, "zero": false}, "axis": {"values": [1000,1500,2000,2500,3000,3500,4000], "tickCount": 20, "format": "d"}}, "y2": {"field": "rh"}}},
      {"mark": {"type": "area", "color": "#0000ff", "opacity": 0.2, "clip": true}, "encoding": {"y": {"field": "bl", "type": "quantitative", "title": null}, "y2": {"field": "bh"}}},
      {"mark": {"type": "line", "color": "#ff0000", "strokeWidth": 1.1, "clip": true}, "encoding": {"y": {"field": "r", "type": "quantitative", "title": null}}},
      {"mark": {"type": "line", "color": "#0000ff", "strokeWidth": 1.1, "clip": true}, "encoding": {"y": {"field": "b", "type": "quantitative", "title": null}}}
     ]},
    {"title": "Seaquest", "width": 148, "height": 84, "data": {"name": "seaquest"},
     "encoding": {"x": {"field": "x", "type": "quantitative", "scale": {"domain": [0, 8.8], "nice": false}, "axis": {"values": [0,1,2,3,4,5,6,7,8,8.8], "tickCount": 20, "labelOverlap": false, "labelExpr": "datum.value > 8.5 ? '1e7' : format(datum.value, 'd')", "labelAlign": {"condition": {"test": "datum.value > 8.5", "value": "right"}, "value": "center"}, "labelPadding": {"condition": {"test": "datum.value > 8.5", "value": 7.5}, "value": 1.5}, "labelFontSize": {"condition": {"test": "datum.value > 8.5", "value": 5}, "value": 5.5}, "gridOpacity": {"condition": {"test": "datum.value > 8.5", "value": 0}, "value": 1}, "title": "Number of timesteps", "titleY": 6, "titleBaseline": "top"}}},
     "layer": [
      {"mark": {"type": "area", "color": "#ff0000", "opacity": 0.2, "clip": true}, "encoding": {"y": {"field": "rl", "type": "quantitative", "title": null, "scale": {"domain": [-50, 1900], "nice": false, "zero": false}, "axis": {"values": [0,250,500,750,1000,1250,1500,1750], "tickCount": 20, "format": "d"}}, "y2": {"field": "rh"}}},
      {"mark": {"type": "area", "color": "#0000ff", "opacity": 0.2, "clip": true}, "encoding": {"y": {"field": "bl", "type": "quantitative", "title": null}, "y2": {"field": "bh"}}},
      {"mark": {"type": "line", "color": "#ff0000", "strokeWidth": 1.1, "clip": true}, "encoding": {"y": {"field": "r", "type": "quantitative", "title": null}}},
      {"mark": {"type": "line", "color": "#0000ff", "strokeWidth": 1.1, "clip": true}, "encoding": {"y": {"field": "b", "type": "quantitative", "title": null}}}
     ]}
   ],
   "bounds": "flush",
   "spacing": 23,
   "title": {"text": "(b) Similar", "orient": "bottom", "anchor": "middle", "font": "Liberation Serif, Times New Roman, serif", "fontSize": 12, "fontWeight": "normal", "color": "#000000", "offset": 17}
  },
  {
   "vconcat": [
    {"width": 155, "height": 60, "view": {"fill": null, "stroke": null},
     "layer": [
      {"data": {"values": [{"label": "CoordConv"}, {"label": "Convolution"}]},
       "mark": {"type": "rule", "strokeWidth": 1.2},
       "encoding": {
         "y": {"field": "label", "type": "nominal", "scale": {"domain": ["CoordConv", "Convolution", "95% CI"], "range": [9, 57], "paddingInner": 0.12, "paddingOuter": 0.06}, "axis": null},
         "x": {"datum": 1.3, "type": "quantitative", "scale": {"domain": [0, 10]}, "axis": null},
         "x2": {"datum": 3.3},
         "color": {"field": "label", "type": "nominal", "scale": {"domain": ["CoordConv", "Convolution"], "range": ["#e04848", "#1010d0"]}, "legend": null}}},
      {"data": {"values": [{"label": "95% CI"}]}, "mark": {"type": "rect", "color": "#eac0c8"},
       "encoding": {"y": {"field": "label", "type": "nominal"}, "x": {"datum": 1.3, "type": "quantitative"}, "x2": {"datum": 2.3}}},
      {"data": {"values": [{"label": "95% CI"}]}, "mark": {"type": "rect", "color": "#bfc0ef"},
       "encoding": {"y": {"field": "label", "type": "nominal"}, "x": {"datum": 2.33, "type": "quantitative"}, "x2": {"datum": 3.3}}},
      {"data": {"values": [{"label": "CoordConv"}, {"label": "Convolution"}, {"label": "95% CI"}]},
       "mark": {"type": "text", "align": "left", "baseline": "middle", "fontSize": 10.5, "font": "Liberation Sans", "color": "#222222"},
       "encoding": {"y": {"field": "label", "type": "nominal"}, "x": {"datum": 3.9, "type": "quantitative"}, "text": {"field": "label"}}}
     ]},
    {"title": "Asteroids", "width": 155, "height": 88, "data": {"name": "asteroids"},
     "encoding": {"x": {"field": "x", "type": "quantitative", "scale": {"domain": [0, 8.8], "nice": false}, "axis": {"values": [0,1,2,3,4,5,6,7,8,8.8], "tickCount": 20, "labelOverlap": false, "labelExpr": "datum.value > 8.5 ? '1e7' : format(datum.value, 'd')", "labelAlign": {"condition": {"test": "datum.value > 8.5", "value": "right"}, "value": "center"}, "labelPadding": {"condition": {"test": "datum.value > 8.5", "value": 7.5}, "value": 1.5}, "labelFontSize": {"condition": {"test": "datum.value > 8.5", "value": 5}, "value": 5.5}, "gridOpacity": {"condition": {"test": "datum.value > 8.5", "value": 0}, "value": 1}, "title": "Number of timesteps", "titleY": 6, "titleBaseline": "top"}}},
     "layer": [
      {"mark": {"type": "area", "color": "#ff0000", "opacity": 0.2, "clip": true}, "encoding": {"y": {"field": "rl", "type": "quantitative", "title": null, "scale": {"domain": [490, 2300], "nice": false, "zero": false}, "axis": {"values": [500,750,1000,1250,1500,1750,2000,2250], "tickCount": 20, "format": "d"}}, "y2": {"field": "rh"}}},
      {"mark": {"type": "area", "color": "#0000ff", "opacity": 0.2, "clip": true}, "encoding": {"y": {"field": "bl", "type": "quantitative", "title": null}, "y2": {"field": "bh"}}},
      {"mark": {"type": "line", "color": "#ff0000", "strokeWidth": 1.1, "clip": true}, "encoding": {"y": {"field": "r", "type": "quantitative", "title": null}}},
      {"mark": {"type": "line", "color": "#0000ff", "strokeWidth": 1.1, "clip": true}, "encoding": {"y": {"field": "b", "type": "quantitative", "title": null}}}
     ]}
   ],
   "bounds": "flush",
   "spacing": 142,
   "title": {"text": "(b) Worse", "orient": "bottom", "anchor": "middle", "font": "Liberation Serif, Times New Roman, serif", "fontSize": 12, "fontWeight": "normal", "color": "#000000", "offset": 14}
  }
 ],
 "spacing": 25
}
],
"spacing": 33
}
